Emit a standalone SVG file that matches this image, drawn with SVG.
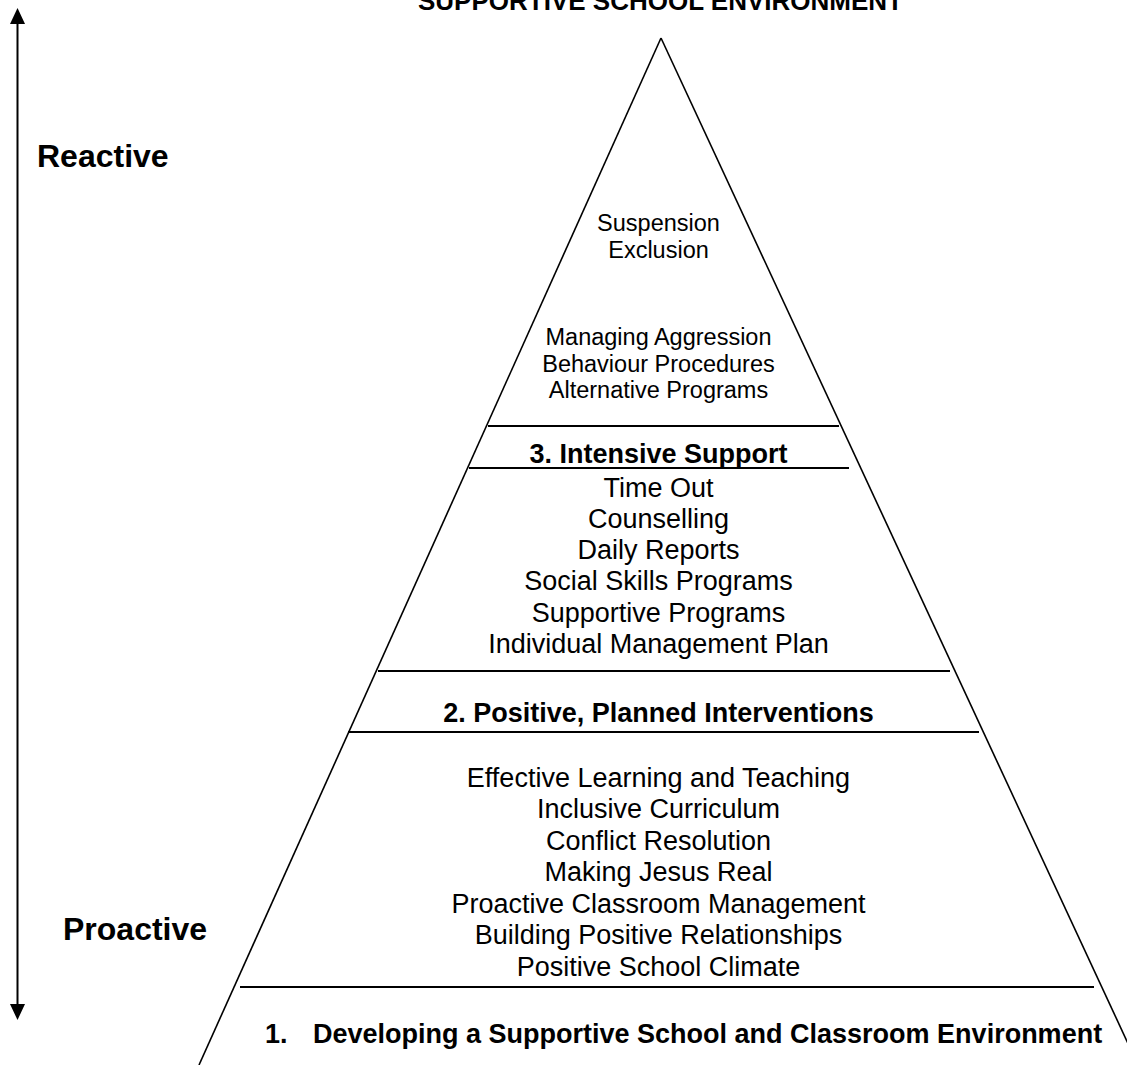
<svg xmlns="http://www.w3.org/2000/svg" width="1127" height="1065" viewBox="0 0 1127 1065">
<style>
  text { font-family: "Liberation Sans", Arial, sans-serif; fill: #000; }
  .c { text-anchor: middle; }
  .s { font-size: 23.5px; }
  .m { font-size: 27px; }
  .b { font-size: 27px; font-weight: bold; }
  .side { stroke: #000; stroke-width: 1.6; fill: none; }
  .hl { stroke: #000; stroke-width: 2; }
  .axis { stroke: #000; stroke-width: 2; fill: none; }
  .lbl { font-size: 32px; font-weight: bold; }
</style>
<defs>
  <marker id="ah" viewBox="0 0 16 15" refX="0" refY="7.5" markerWidth="16" markerHeight="15" markerUnits="userSpaceOnUse" orient="auto-start-reverse">
    <path d="M0,0 L16,7.5 L0,15 Z" fill="#000"/>
  </marker>
</defs>
<rect width="1127" height="1065" fill="#fff"/>

<g id="title">
  <text class="c" x="660.5" y="10" font-size="25.6" font-weight="bold" textLength="485" lengthAdjust="spacingAndGlyphs">SUPPORTIVE SCHOOL ENVIRONMENT</text>
</g>

<g id="connectors">
  <line class="axis" x1="17.5" y1="24" x2="17.5" y2="1004" marker-start="url(#ah)" marker-end="url(#ah)"/>
</g>

<g id="label-reactive">
  <text class="lbl" x="37" y="167">Reactive</text>
</g>
<g id="label-proactive">
  <text class="lbl" x="63" y="940">Proactive</text>
</g>

<g id="pyramid">
  <line class="side" x1="661" y1="38" x2="199" y2="1065"/>
  <line class="side" x1="661" y1="38" x2="1138" y2="1065"/>
  <line class="hl" x1="488" y1="426" x2="839" y2="426"/>
  <line class="hl" x1="378" y1="671" x2="950" y2="671"/>
  <line class="hl" x1="348" y1="732" x2="979" y2="732"/>
  <line class="hl" x1="240" y1="987" x2="1094" y2="987"/>
</g>

<g id="tier-top">
  <text class="c s" x="658.5" y="231">Suspension</text>
  <text class="c s" x="658.5" y="258">Exclusion</text>
  <text class="c s" x="658.5" y="345">Managing Aggression</text>
  <text class="c s" x="658.5" y="371.7">Behaviour Procedures</text>
  <text class="c s" x="658.5" y="398">Alternative Programs</text>
</g>

<g id="tier-3">
  <text class="c b" x="658.5" y="463">3. Intensive Support</text>
  <line class="hl" x1="469" y1="468" x2="849" y2="468"/>
  <text class="c m" x="658.5" y="496.6">Time Out</text>
  <text class="c m" x="658.5" y="527.8">Counselling</text>
  <text class="c m" x="658.5" y="559">Daily Reports</text>
  <text class="c m" x="658.5" y="590.3">Social Skills Programs</text>
  <text class="c m" x="658.5" y="621.5">Supportive Programs</text>
  <text class="c m" x="658.5" y="652.7">Individual Management Plan</text>
</g>

<g id="tier-2">
  <text class="c b" x="658.5" y="721.5">2. Positive, Planned Interventions</text>
  <text class="c m" x="658.5" y="786.7">Effective Learning and Teaching</text>
  <text class="c m" x="658.5" y="818.2">Inclusive Curriculum</text>
  <text class="c m" x="658.5" y="849.7">Conflict Resolution</text>
  <text class="c m" x="658.5" y="881.2">Making Jesus Real</text>
  <text class="c m" x="658.5" y="912.7">Proactive Classroom Management</text>
  <text class="c m" x="658.5" y="944.2">Building Positive Relationships</text>
  <text class="c m" x="658.5" y="975.7">Positive School Climate</text>
</g>

<g id="tier-1">
  <text class="b" y="1043"><tspan x="265">1.</tspan><tspan x="313">Developing a Supportive School and Classroom Environment</tspan></text>
</g>
</svg>
